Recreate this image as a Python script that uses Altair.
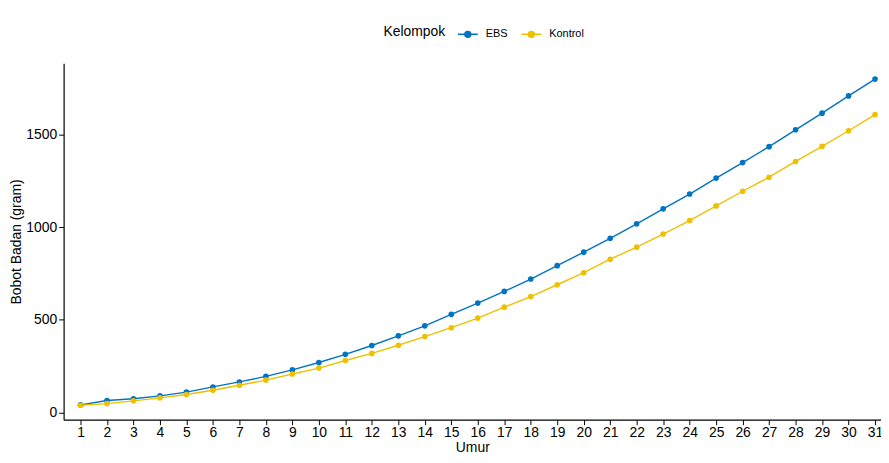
import altair as alt
import pandas as pd

umur = [1, 2, 3, 4, 5, 6, 7, 8, 9, 10, 11, 12, 13, 14, 15, 16, 17, 18, 19, 20,
        21, 22, 23, 24, 25, 26, 27, 28, 29, 30, 31]
ebs = [40, 64, 73, 89, 109, 137, 164, 194, 229, 269, 313, 361, 413, 467, 529,
       590, 653, 720, 792, 865, 940, 1018, 1099, 1179, 1265, 1349, 1435, 1526,
       1616, 1709, 1800]
kontrol = [38, 47, 62, 78, 96, 119, 146, 174, 207, 239, 280, 318, 362, 409, 457,
           509, 568, 625, 689, 754, 827, 892, 963, 1036, 1115, 1194, 1270, 1355,
           1437, 1521, 1608]
groups = ["EBS", "Kontrol"]
colors = ["#0073C2", "#EFC000"]

rows = []
for g, vals in zip(groups, [ebs, kontrol]):
    for u, v in zip(umur, vals):
        rows.append({"Umur": u, "Bobot": v, "Kelompok": g})
df = pd.DataFrame(rows)

FONT = "Liberation Sans"
sym = ("M-1,0H1 M0.3,0A0.3,0.3 0 1,1 -0.3,0A0.3,0.3 0 1,1 0.3,0 "
       "M0.2,0A0.2,0.2 0 1,1 -0.2,0A0.2,0.2 0 1,1 0.2,0 "
       "M0.1,0A0.1,0.1 0 1,1 -0.1,0A0.1,0.1 0 1,1 0.1,0")

legend = alt.Legend(
    title="Kelompok", orient="none", legendX=322, legendY=-40,
    direction="horizontal", titleOrient="left", titleFontSize=14,
    titleFontWeight="normal", titleColor="black", titleFont=FONT,
    titlePadding=11, labelFontSize=11, labelFont=FONT, labelColor="black",
    symbolType=sym, symbolSize=400, symbolStrokeWidth=1.5, labelOffset=7,
    columnPadding=10, symbolOpacity=1,
)

base = alt.Chart(df).encode(
    x=alt.X("Umur:Q",
            scale=alt.Scale(domain=[0.3625, 31.225], nice=False, zero=False),
            axis=alt.Axis(values=umur, title="Umur", format="d",
                          titleY=32, titleBaseline="alphabetic",
                          labelPadding=1)),
    y=alt.Y("Bobot:Q",
            scale=alt.Scale(domain=[-40, 1886], nice=False, zero=False),
            axis=alt.Axis(values=[0, 500, 1000, 1500], format="d",
                          title="Bobot Badan (gram)", titleX=-40,
                          titleBaseline="bottom")),
    color=alt.Color("Kelompok:N",
                    scale=alt.Scale(domain=groups, range=colors),
                    legend=legend),
)

line = base.mark_line(strokeWidth=1.4, clip=True)
pts = base.mark_circle(size=32, opacity=1, clip=True)

chart = (line + pts).properties(
    width=823, height=359,
    autosize=alt.AutoSizeParams(type="none"),
    padding={"left": 56, "top": 54, "right": 0, "bottom": 34},
).configure_view(stroke=None).configure_axis(
    grid=False, domainColor="black", domainWidth=1.2, tickColor="black",
    tickWidth=1, tickSize=5, labelColor="black", labelFontSize=14,
    labelFont=FONT, titleFont=FONT, titleFontSize=14, titleColor="black",
    titleFontWeight="normal", labelPadding=2,
).configure_axisX(labelFlush=False)

chart.save("out.html", embed_options={"renderer": "svg", "actions": False})
